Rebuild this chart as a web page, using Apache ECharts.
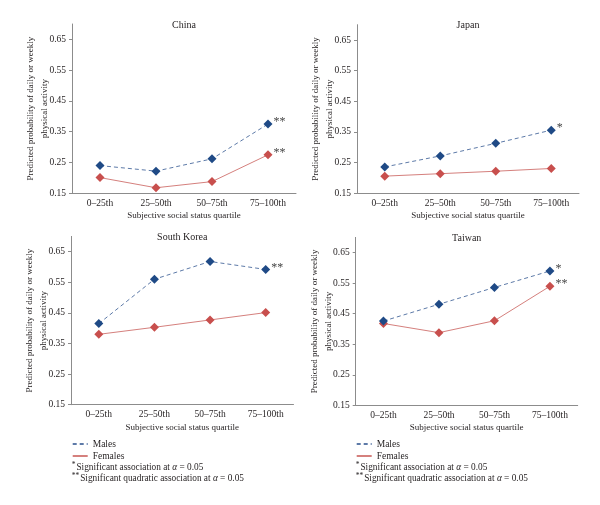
<!DOCTYPE html>
<html>
<head>
<meta charset="utf-8">
<script src="https://cdn.jsdelivr.net/npm/echarts@6/dist/echarts.min.js"></script>
<style>
html,body{margin:0;padding:0;background:#fff;}
#chart{width:600px;height:505px;}
</style>
</head>
<body>
<div id="chart"></div>
<script>
// ---------- data ----------
const quartiles = ['0\u201325th', '25\u201350th', '50\u201375th', '75\u2013100th'];
const yTicks = [0.15, 0.25, 0.35, 0.45, 0.55, 0.65];
const panelNames = ['China', 'Japan', 'South Korea', 'Taiwan'];

const chinaMales   = [0.240, 0.222, 0.262, 0.375];
const chinaFemales = [0.201, 0.168, 0.188, 0.275];
const japanMales   = [0.236, 0.272, 0.313, 0.356];
const japanFemales = [0.206, 0.214, 0.222, 0.231];
const koreaMales   = [0.415, 0.560, 0.618, 0.592];
const koreaFemales = [0.380, 0.403, 0.427, 0.451];
const taiwanMales  = [0.426, 0.481, 0.536, 0.590];
const taiwanFemales= [0.418, 0.388, 0.427, 0.540];

// significance markers (per quartile)
const chinaMalesSig    = ['', '', '', '**'];
const chinaFemalesSig  = ['', '', '', '**'];
const japanMalesSig    = ['', '', '', '*'];
const japanFemalesSig  = ['', '', '', ''];
const koreaMalesSig    = ['', '', '', '**'];
const koreaFemalesSig  = ['', '', '', ''];
const taiwanMalesSig   = ['', '', '', '*'];
const taiwanFemalesSig = ['', '', '', '**'];

const seriesNames = ['Males', 'Females'];
const xAxisTitle = 'Subjective social status quartile';
const yAxisTitle = 'Predicted probability of daily or weekly\nphysical activity';
const note1 = 'Significant association at';
const note2 = 'Significant quadratic association at';

// ---------- layout / style ----------
const FONT = 'Liberation Serif';
const TXT = '#231f20';
const AX = '#8c8c8c';
const maleSym = '#1f4a86', maleLine = '#5d7aa8';
const femSym = '#c84f4d', femLine = '#d5807d';

const grids = [
  {left: 72, right: 304, top: 24, bottom: 311.7},
  {left: 357, right: 21, top: 24.7, bottom: 311.7},
  {left: 71, right: 306.5, top: 236.4, bottom: 100.3},
  {left: 355.7, right: 22.3, top: 237.4, bottom: 99.7}
];

const panelData = [
  [chinaMales, chinaFemales, chinaMalesSig, chinaFemalesSig],
  [japanMales, japanFemales, japanMalesSig, japanFemalesSig],
  [koreaMales, koreaFemales, koreaMalesSig, koreaFemalesSig],
  [taiwanMales, taiwanFemales, taiwanMalesSig, taiwanFemalesSig]
];

function mkData(vals, sig) {
  return vals.map((v, i) => sig[i] ? {
    value: v,
    label: {show: true, formatter: sig[i], position: 'right', distance: 1,
            offset: [0, -2], color: '#444', fontSize: 12, fontFamily: FONT}
  } : v);
}

const xAxes = [], yAxes = [], series = [], titles = [];
grids.forEach((g, i) => {
  xAxes.push({
    type: 'category', gridIndex: i, data: quartiles, boundaryGap: true,
    axisLine: {lineStyle: {color: AX, width: 1}},
    axisTick: {alignWithLabel: true, length: 3, lineStyle: {color: AX}},
    axisLabel: {color: TXT, fontFamily: FONT, fontSize: 9.5, margin: 5},
    name: xAxisTitle, nameLocation: 'middle', nameGap: 18, nameMoveOverlap: false,
    nameTextStyle: {color: TXT, fontFamily: FONT, fontSize: 9}
  });
  yAxes.push({
    type: 'value', gridIndex: i, min: 0.15, max: 0.7, interval: 0.1,
    axisLine: {show: true, lineStyle: {color: AX, width: 1}},
    axisTick: {show: true, length: 3, lineStyle: {color: AX}},
    splitLine: {show: false},
    axisLabel: {color: TXT, fontFamily: FONT, fontSize: 9.5, margin: 6, showMaxLabel: false,
      formatter: v => yTicks.some(t => Math.abs(t - v) < 1e-6) ? v.toFixed(2) : ''},
    name: yAxisTitle, nameLocation: 'middle', nameGap: 20, nameMoveOverlap: false,
    nameTextStyle: {color: TXT, fontFamily: FONT, fontSize: 9, lineHeight: 14, align: 'center'}
  });
  const [m, f, ms, fs] = panelData[i];
  series.push({
    name: seriesNames[0], type: 'line', xAxisIndex: i, yAxisIndex: i,
    data: mkData(m, ms), symbol: 'diamond', symbolSize: 9,
    itemStyle: {color: maleSym}, lineStyle: {color: maleLine, width: 1, type: [4, 3]},
    animation: false, z: 3
  });
  series.push({
    name: seriesNames[1], type: 'line', xAxisIndex: i, yAxisIndex: i,
    data: mkData(f, fs), symbol: 'diamond', symbolSize: 9,
    itemStyle: {color: femSym}, lineStyle: {color: femLine, width: 1},
    animation: false, z: 2
  });
  const cx = g.left + (600 - g.left - g.right) / 2;
  titles.push({
    text: panelNames[i], left: cx, top: g.top - 4, textAlign: 'center', padding: 0,
    textStyle: {color: TXT, fontFamily: FONT, fontSize: 10, fontWeight: 'normal'}
  });
});

const legendX = [71.7, 355.7];
const legends = legendX.map(x => ({
  data: seriesNames, orient: 'vertical', left: x, top: 438.5, padding: 0,
  itemWidth: 15, itemHeight: 8, itemGap: 1,
  itemStyle: {opacity: 0},
  textStyle: {color: TXT, fontFamily: FONT, fontSize: 9.5, lineHeight: 11, padding: [0, 0, 0, 0]},
  selectedMode: false
}));

const rich = {
  s: {fontSize: 7.5, fontFamily: FONT, color: TXT, verticalAlign: 'top', padding: [0, 1, 4, 0]},
  t: {fontSize: 9.3, fontFamily: FONT, color: TXT},
  a: {fontSize: 9.3, fontFamily: FONT, color: TXT, fontStyle: 'italic'}
};
legendX.forEach(x => {
  titles.push({
    text: '{s|*}{t|' + note1 + ' }{a|\u03b1}{t| = 0.05}', left: x, top: 461.5, padding: 0,
    textStyle: {rich: rich, fontWeight: 'normal'}
  });
  titles.push({
    text: '{s|**}{t|' + note2 + ' }{a|\u03b1}{t| = 0.05}', left: x, top: 472.5, padding: 0,
    textStyle: {rich: rich, fontWeight: 'normal'}
  });
});

const chart = echarts.init(document.getElementById('chart'), null, {renderer: 'canvas'});
chart.setOption({
  animation: false,
  backgroundColor: '#fff',
  title: titles,
  legend: legends,
  grid: grids,
  xAxis: xAxes,
  yAxis: yAxes,
  series: series
});
</script>
</body>
</html>
